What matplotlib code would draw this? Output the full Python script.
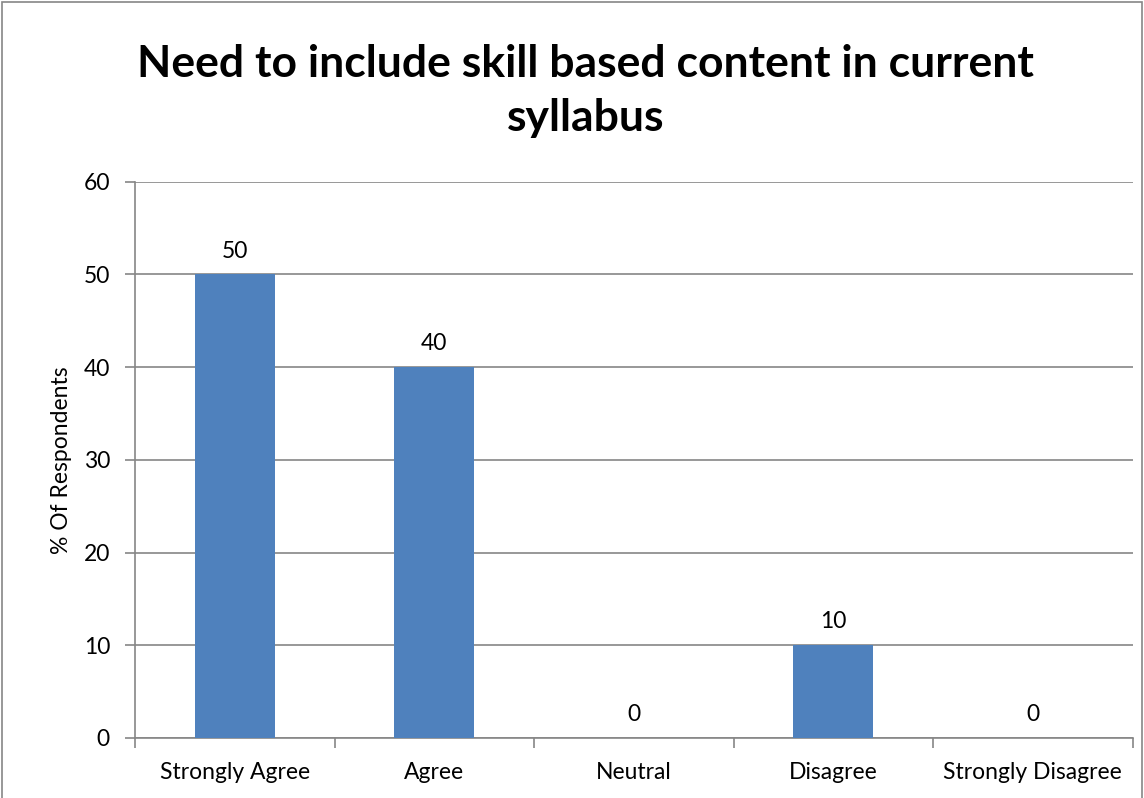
import matplotlib
matplotlib.use("Agg")
import matplotlib.pyplot as plt
from matplotlib.patches import Rectangle
import numpy as np

categories = ["Strongly Agree", "Agree", "Neutral", "Disagree", "Strongly Disagree"]
values = [50, 40, 0, 10, 0]
title = "Need to include skill based content in current\nsyllabus"
ylabel = "% Of Respondents"

plt.rcParams['font.family'] = ['Lato', 'DejaVu Sans']

fig = plt.figure(figsize=(11.44, 7.98), dpi=100)
ax = fig.add_axes([0.118, 0.0752, 0.872, 0.697])

fs = 16.5
x = np.arange(len(categories))
bars = ax.bar(x, values, width=0.4, color="#4F81BD", zorder=3)
for xi, v in zip(x, values):
    ax.text(xi, v + 1.4, f"{v}", ha="center", va="bottom", fontsize=fs, color="black")

ax.set_xlim(-0.5, len(categories) - 0.5)
ax.set_ylim(0, 60)
ax.set_yticks(range(0, 61, 10))
ax.yaxis.grid(True, color="#868686", linewidth=1.2, zorder=0)
ax.set_axisbelow(True)

ax.set_xticks(x)
ax.set_xticklabels(categories, fontsize=fs)
ax.set_xticks(np.arange(-0.5, len(categories), 1), minor=True)
ax.tick_params(axis="x", which="major", length=0, pad=17)
ax.tick_params(axis="x", which="minor", length=7, color="#868686", width=1.2)
ax.tick_params(axis="y", length=7, color="#868686", width=1.2, labelsize=fs, pad=11)

for s in ["top", "right"]:
    ax.spines[s].set_visible(False)
for s in ["left", "bottom"]:
    ax.spines[s].set_color("#868686")
    ax.spines[s].set_linewidth(1.2)

ax.set_ylabel(ylabel, fontsize=fs, labelpad=8)

fig.text(0.512, 0.886, title, ha="center", va="center", fontsize=32,
         fontweight="bold", linespacing=1.45)

fig.patches.append(Rectangle((0.002, -0.01), 0.996, 1.007, transform=fig.transFigure,
                             fill=False, edgecolor="#868686", linewidth=1.2))

fig.savefig("out.png", dpi=100)
